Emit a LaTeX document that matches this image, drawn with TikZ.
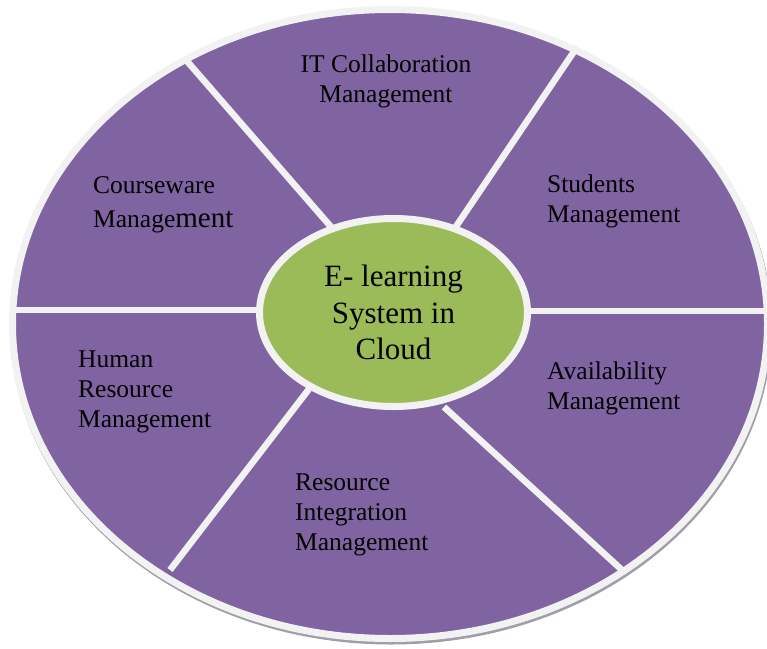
\documentclass[tikz,border=0pt]{standalone}
\usepackage{fontspec}
\setmainfont{Liberation Serif}
\usetikzlibrary{shapes.geometric}
\definecolor{segpurple}{HTML}{8064A2}
\definecolor{hubgreen}{HTML}{9BBB59}
\definecolor{rimgray}{HTML}{F2F2F2}
\definecolor{shadowgray}{HTML}{A19DA9}
\begin{document}
\begin{tikzpicture}[x=1pt,y=-1pt,
  % labels are anchored at the baseline of their last line
  label text/.style={font=\fontsize{25.5}{30}\selectfont, inner sep=0pt,
    align=left, anchor=base west, text=black},
  divider/.style={draw=rimgray, line width=6.5pt},
  disc/.style={ellipse, inner sep=0pt, line width=7pt, draw=rimgray}]
\useasboundingbox (0,0) rectangle (767,648);

% soft shadow under the rim of the outer disc
\node (shadow) [ellipse, fill=shadowgray, inner sep=0pt,
  minimum width=762pt, minimum height=636pt] at (391,326.5) {};
% outer disc with its light rim
\node (outer) [disc, fill=segpurple,
  minimum width=755pt, minimum height=629pt] at (390,324) {};

% dividers between the segments
\coordinate (d1o) at (186,60);  \coordinate (d1i) at (332,228);
\coordinate (d2o) at (577,47);  \coordinate (d2i) at (455,228);
\coordinate (d3o) at (14,310);  \coordinate (d3i) at (266,310);
\coordinate (d4o) at (770,311); \coordinate (d4i) at (522,311);
\coordinate (d5o) at (170,570); \coordinate (d5i) at (309,389);
\coordinate (d6o) at (622,570); \coordinate (d6i) at (444,407);
\foreach \k in {1,...,6} \draw[divider] (d\k o) -- (d\k i);

% central hub
\node (hub) [disc, fill=hubgreen, minimum width=268pt, minimum height=188pt,
  align=center, font=\fontsize{31}{36.5}\selectfont] at (393.5,312.5)
  {E- learning\\System in\\Cloud};

% segment labels
\node (itcollab) [label text, align=center, anchor=base] at (386,102)
  {IT Collaboration\\Management};
\node (students) [label text] at (547,222) {Students\\Management};
\node (courseware) [label text] at (93,227)
  {Courseware\\[4pt]Manage{\fontsize{29}{30}\selectfont ment}};
\node (human) [label text] at (78,427) {Human\\Resource\\Management};
\node (availability) [label text] at (547,409) {Availability\\Management};
\node (integration) [label text] at (295,550)
  {Resource\\Integration\\Management};
\end{tikzpicture}
\end{document}
